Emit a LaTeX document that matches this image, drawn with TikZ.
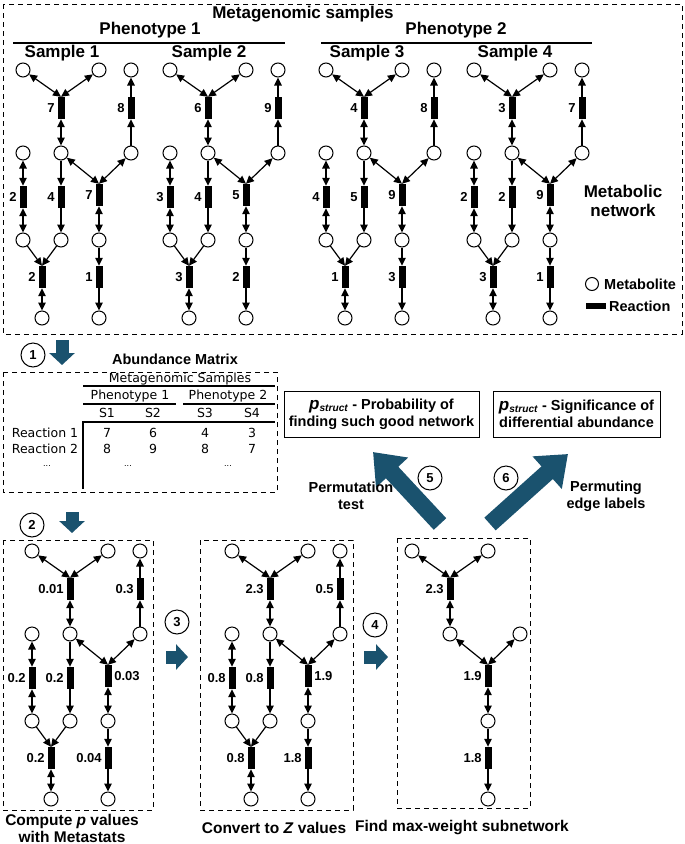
\documentclass[tikz,border=0pt]{standalone}
\usepackage{fontspec}
\setmainfont{Liberation Sans}
\newfontfamily\tabfont{DejaVu Sans}
\usepackage{tikz}
\usepackage{xcolor}
\usetikzlibrary{arrows.meta}
\definecolor{stepteal}{RGB}{26,82,110}

\begin{document}
\begin{tikzpicture}[x=1pt,y=-1pt]
\useasboundingbox (0,0) rectangle (685,844);
\tikzstyle{met}=[circle,draw,line width=1pt,fill=white,minimum size=14pt,inner sep=0pt]
\tikzstyle{rxn}=[rectangle,fill=black,minimum width=7pt,minimum height=22pt,inner sep=0pt]
\tikzstyle{lbl}=[font=\fontsize{13}{15}\selectfont\bfseries,inner sep=2.5pt]
\tikzstyle{both}=[line width=1.2pt,{Triangle[length=8pt,width=7.5pt]}-{Triangle[length=8pt,width=7.5pt]}]
\tikzstyle{fwd}=[line width=1.2pt,-{Triangle[length=8pt,width=7.5pt]}]
\tikzstyle{dbox}=[line width=1pt,dash pattern=on 5pt off 4pt]
\tikzstyle{title}=[font=\fontsize{17}{19}\selectfont\bfseries,inner sep=0pt]
\tikzstyle{capt}=[font=\fontsize{15.5}{17}\selectfont\bfseries,align=center,inner sep=0pt]
\tikzstyle{txt}=[font=\fontsize{14.5}{17}\selectfont\bfseries,align=center,inner sep=0pt]
\tikzstyle{tabtxt}=[font=\tabfont\fontsize{12.5}{14}\selectfont,inner sep=0pt]
\tikzstyle{stepnum}=[circle,draw,line width=1pt,minimum size=24pt,inner sep=0pt,font=\fontsize{13}{15}\selectfont\bfseries]
\tikzstyle{smallarrow}=[draw=stepteal,line width=13pt,-{Triangle[length=12pt,width=25pt]}]
\tikzstyle{bigarrow}=[draw=stepteal,line width=17pt,-{Triangle[length=28pt,width=42pt]}]

% metagenomic samples
\draw[dbox] (3,4) rectangle (682,334);
\node[title] (ttl) at (303,14) {Metagenomic samples};
\node[title] (ph1) at (150,30) {Phenotype 1};
\node[title] (ph2) at (456,30) {Phenotype 2};
\draw[line width=2pt] (13,43) -- (285,43);
\draw[line width=2pt] (321,43) -- (592,43);
\node[title] (sm1) at (62,53) {Sample 1};
\node[title] (sm2) at (209,53) {Sample 2};
\node[title] (sm3) at (367,53) {Sample 3};
\node[title] (sm4) at (515,53) {Sample 4};

% full networks
\foreach \nm/\ox/\oy/\wA/\wB/\wC/\wD/\wE/\wF/\wG/\lanc/\lat in
  {s1/23/70/7/8/2/4/7/2/1/east/west,
   s2/170/70/6/9/3/4/5/3/2/east/west,
   s3/326/70/4/8/4/5/9/1/3/east/west,
   s4/474/70/3/7/2/2/9/3/1/east/west,
   pv/32/551/0.01/0.3/0.2/0.2/0.03/0.2/0.04/west/east,
   zv/232/551/2.3/0.5/0.8/0.8/1.9/0.8/1.8/west/east}{
  \node[met] (\nm-tl) at (\ox,\oy) {};
  \node[met] (\nm-tr) at (\ox+76,\oy) {};
  \node[met] (\nm-tf) at (\ox+108,\oy) {};
  \node[met] (\nm-ml) at (\ox,\oy+83) {};
  \node[met] (\nm-mm) at (\ox+38,\oy+83) {};
  \node[met] (\nm-mr) at (\ox+108,\oy+83) {};
  \node[met] (\nm-ll) at (\ox,\oy+170) {};
  \node[met] (\nm-lm) at (\ox+38,\oy+170) {};
  \node[met] (\nm-lr) at (\ox+76,\oy+170) {};
  \node[met] (\nm-bl) at (\ox+19,\oy+248) {};
  \node[met] (\nm-br) at (\ox+76,\oy+248) {};
  \node[rxn] (\nm-rA) at (\ox+38,\oy+38) {};
  \node[rxn] (\nm-rB) at (\ox+108,\oy+38) {};
  \node[rxn] (\nm-rC) at (\ox,\oy+127) {};
  \node[rxn] (\nm-rD) at (\ox+38,\oy+127) {};
  \node[rxn] (\nm-rE) at (\ox+76,\oy+125) {};
  \node[rxn] (\nm-rF) at (\ox+19,\oy+207) {};
  \node[rxn] (\nm-rG) at (\ox+76,\oy+207) {};
  \node[lbl,anchor=east] (\nm-lA) at (\nm-rA.west) {\wA};
  \node[lbl,anchor=east] (\nm-lB) at (\nm-rB.west) {\wB};
  \node[lbl,anchor=east] (\nm-lC) at (\nm-rC.west) {\wC};
  \node[lbl,anchor=east] (\nm-lD) at (\nm-rD.west) {\wD};
  \node[lbl,anchor=\lanc] (\nm-lE) at (\nm-rE.\lat) {\wE};
  \node[lbl,anchor=east] (\nm-lF) at (\nm-rF.west) {\wF};
  \node[lbl,anchor=east] (\nm-lG) at (\nm-rG.west) {\wG};
  \draw[both] (\nm-tl) -- (\nm-rA.north);
  \draw[both] (\nm-tr) -- (\nm-rA.north);
  \draw[both] (\nm-rA) -- (\nm-mm);
  \draw[fwd] (\nm-mr) -- (\nm-rB);
  \draw[fwd] (\nm-rB) -- (\nm-tf);
  \draw[both] (\nm-mm) -- (\nm-rE.north);
  \draw[both] (\nm-mr) -- (\nm-rE.north);
  \draw[both] (\nm-ml) -- (\nm-rC);
  \draw[both] (\nm-rC) -- (\nm-ll);
  \draw[fwd] (\nm-mm) -- (\nm-rD);
  \draw[fwd] (\nm-rD) -- (\nm-lm);
  \draw[both] (\nm-rE) -- (\nm-lr);
  \draw[fwd] (\nm-lr) -- (\nm-rG);
  \draw[fwd] (\nm-rG) -- (\nm-br);
  \draw[fwd] (\nm-ll) -- (\nm-rF.north);
  \draw[fwd] (\nm-lm) -- (\nm-rF.north);
  \draw[both] (\nm-rF) -- (\nm-bl);
}

% legend
\node[title,align=center] (mnet) at (623,201) {Metabolic\\network};
\node[met,minimum size=13pt] (legmet) at (592,284) {};
\node[txt,anchor=west] (legmettxt) at (604,284) {Metabolite};
\node[rxn,minimum width=20pt,minimum height=6pt] (legrxn) at (596,306) {};
\node[txt,anchor=west] (legrxntxt) at (609,306) {Reaction};

% step 1 and abundance matrix
\node[stepnum] (c1) at (33,355) {1};
\coordinate (a1s) at (62,340);
\coordinate (a1e) at (62,365);
\draw[smallarrow] (a1s) -- (a1e);
\node[txt] (abtitle) at (175,359) {Abundance Matrix};
\draw[dbox] (3,372) rectangle (277,492);
\node[tabtxt] (tms) at (180,379) {Metagenomic Samples};
\draw[line width=1.8pt] (83,386) -- (275,386);
\node[tabtxt] (tp1) at (130,396) {Phenotype 1};
\node[tabtxt] (tp2) at (228,396) {Phenotype 2};
\draw[line width=1.8pt] (83,404) -- (176,404);
\draw[line width=1.8pt] (183,404) -- (275,404);
\foreach \s/\x in {1/107,2/153,3/205,4/252}
  \node[tabtxt] (ts\s) at (\x,413) {S\s};
\draw[line width=2.5pt] (83,422) -- (275,422);
\draw[line width=2.5pt] (83,421) -- (83,489);
\node[tabtxt] (tr1) at (45,433) {Reaction 1};
\node[tabtxt] (tr2) at (45,449) {Reaction 2};
\foreach \x/\u/\v [count=\i] in {107/7/8,153/6/9,205/4/8,252/3/7}{
  \node[tabtxt] (tv1\i) at (\x,433) {\u};
  \node[tabtxt] (tv2\i) at (\x,449) {\v};
}
\foreach \x [count=\i] in {47,128,228}
  \node[tabtxt,font=\tabfont\fontsize{8}{9}\selectfont] (tdots\i) at (\x,466) {...};

% p struct results
\node[txt,draw,line width=1pt,minimum width=195pt,minimum height=46pt] (pb1) at (381.5,414)
  {{\fontsize{17}{17}\selectfont\itshape p}\textsubscript{\itshape struct} - Probability of\\finding such good network};
\node[txt,draw,line width=1pt,minimum width=167pt,minimum height=46pt] (pb2) at (576.5,414)
  {{\fontsize{17}{17}\selectfont\itshape p}\textsubscript{\itshape struct} - Significance of\\differential abundance};
\coordinate (a5s) at (440,524);
\coordinate (a5e) at (373,452);
\coordinate (a6s) at (490,524);
\coordinate (a6e) at (568,454);
\draw[bigarrow] (a5s) -- (a5e);
\draw[bigarrow] (a6s) -- (a6e);
\node[stepnum] (c5) at (430,478) {5};
\node[stepnum] (c6) at (506,478) {6};
\node[txt] (perm5) at (351,496) {Permutation\\test};
\node[txt] (perm6) at (606,496) {Permuting\\edge labels};

% steps 2 to 4
\node[stepnum] (c2) at (32,525) {2};
\coordinate (a2s) at (72,512);
\coordinate (a2e) at (72,533);
\draw[smallarrow] (a2s) -- (a2e);
\node[stepnum] (c3) at (177,622) {3};
\coordinate (a3s) at (166,657);
\coordinate (a3e) at (188,657);
\draw[smallarrow] (a3s) -- (a3e);
\node[stepnum] (c4) at (375,625) {4};
\coordinate (a4s) at (364,657);
\coordinate (a4e) at (388,657);
\draw[smallarrow] (a4s) -- (a4e);

\draw[dbox] (3,540) rectangle (153,810);
\draw[dbox] (200,540) rectangle (353,810);
\draw[dbox] (397,538) rectangle (530,808);

% max-weight subnetwork
\node[met] (mw-tl) at (412,551) {};
\node[met] (mw-tr) at (488,551) {};
\node[met] (mw-mm) at (450,634) {};
\node[met] (mw-mr) at (520,634) {};
\node[met] (mw-lr) at (488,721) {};
\node[met] (mw-br) at (488,799) {};
\node[rxn] (mw-rA) at (450,589) {};
\node[rxn] (mw-rE) at (488,676) {};
\node[rxn] (mw-rG) at (488,758) {};
\node[lbl,anchor=east] (mw-lA) at (mw-rA.west) {2.3};
\node[lbl,anchor=east] (mw-lE) at (mw-rE.west) {1.9};
\node[lbl,anchor=east] (mw-lG) at (mw-rG.west) {1.8};
\draw[both] (mw-tl) -- (mw-rA.north);
\draw[both] (mw-tr) -- (mw-rA.north);
\draw[both] (mw-rA) -- (mw-mm);
\draw[both] (mw-mm) -- (mw-rE.north);
\draw[both] (mw-mr) -- (mw-rE.north);
\draw[both] (mw-rE) -- (mw-lr);
\draw[fwd] (mw-lr) -- (mw-rG);
\draw[fwd] (mw-rG) -- (mw-br);

% captions
\node[capt] (cap1) at (72,828) {Compute \textit{p} values\\with Metastats};
\node[capt] (cap2) at (274,828) {Convert to \textit{Z} values};
\node[capt] (cap3) at (462,828) {Find max-weight subnetwork};
\end{tikzpicture}
\end{document}
